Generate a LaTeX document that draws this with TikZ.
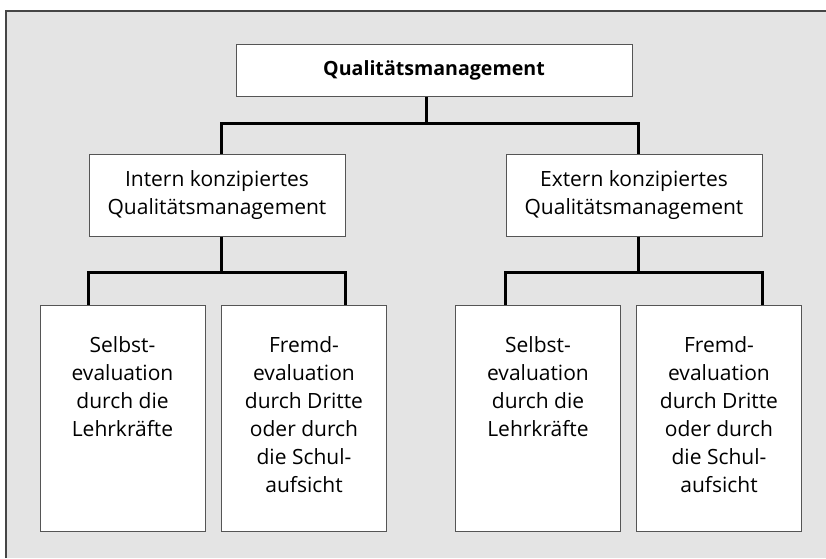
\documentclass[tikz,border=0pt]{standalone}
\usepackage{fontspec}
\setmainfont{Open Sans}
\usetikzlibrary{calc}
\definecolor{panel}{RGB}{228,228,228}
\definecolor{frameline}{RGB}{70,70,70}
\definecolor{boxline}{RGB}{85,85,85}
\newcommand{\evalbox}[1]{\parbox[c][113pt][t]{80pt}{\centering\vspace*{16pt}#1}}

\begin{document}
\begin{tikzpicture}[x=0.5pt,y=-0.5pt,
    box/.style={draw=boxline,line width=0.5pt,fill=white,inner sep=0pt,align=center,
      font=\fontsize{10.5}{14}\selectfont},
    conn/.style={line width=1.5pt,black}]
  \useasboundingbox (0,0) rectangle (826,558);
  \fill[panel] (6,11) rectangle (826,558);
  \draw[frameline,line width=0.8pt] (6,558) -- (6,11) -- (826,11);
  \node[box,minimum width=198pt,minimum height=26pt,font=\fontsize{9.8}{12}\selectfont\bfseries] (qm) at (434,70) {Qualitätsmanagement};
  \node[box,minimum width=128pt,minimum height=41pt] (intern) at (217,195) {Intern konzipiertes\\Qualitätsmanagement};
  \node[box,minimum width=128pt,minimum height=41pt] (extern) at (634,195) {Extern konzipiertes\\Qualitätsmanagement};
  \foreach \n/\x/\txt in {s1/122.5/{Selbst-\\evaluation\\durch die\\Lehrkräfte},
                          f1/304/{Fremd-\\evaluation\\durch Dritte\\oder durch\\die Schul-\\aufsicht},
                          s2/538/{Selbst-\\evaluation\\durch die\\Lehrkräfte},
                          f2/719/{Fremd-\\evaluation\\durch Dritte\\oder durch\\die Schul-\\aufsicht}}{
    \node[box,minimum width=82.5pt,minimum height=113pt] (\n) at (\x,418) {\evalbox{\txt}};
  }
  \draw[conn] ([xshift=-4pt]qm.south) -- ++(0,-13.5pt) coordinate (jq);
  \draw[conn] ([xshift=2pt]intern.north) |- (jq) -| ([xshift=2pt]extern.north);
  \draw[conn] ([xshift=2pt]intern.south) -- ++(0,-18pt) coordinate (ji);
  \draw[conn] (s1.north -| intern.west) |- (ji) -| (f1.north -| intern.east);
  \draw[conn] ([xshift=2pt]extern.south) -- ++(0,-18pt) coordinate (je);
  \draw[conn] (s2.north -| extern.west) |- (je) -| (f2.north -| extern.east);
\end{tikzpicture}
\end{document}
